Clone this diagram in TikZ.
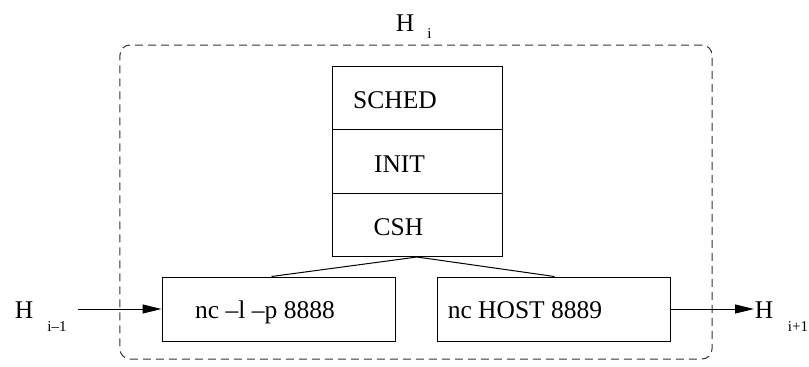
\documentclass[tikz,border=0pt]{standalone}
\usepackage{fontspec}
\setmainfont{Liberation Serif}
\usetikzlibrary{arrows.meta}
\begin{document}
\begin{tikzpicture}[x=1bp,y=-1bp,
  box/.style={draw, line width=1bp, inner sep=0pt, minimum width=170bp, minimum height=63.5bp},
  lowbox/.style={draw, line width=1bp, inner sep=0pt, minimum width=233bp, minimum height=64bp},
  txt/.style={anchor=base, inner sep=0pt, font=\fontsize{25.5bp}{30bp}\selectfont},
  sub/.style={anchor=base, inner sep=0pt, font=\fontsize{15bp}{18bp}\selectfont},
  conn/.style={line width=1bp},
  arr/.style={line width=1bp, -{Triangle[length=19bp,width=9bp]}},
  hostbox/.style={draw=black!80, dash pattern=on 8bp off 5bp, rounded corners=10bp, line width=1bp, inner sep=0pt, minimum width=592bp, minimum height=314bp},
]
\useasboundingbox (0,0) rectangle (809,366);
% host frame
\node[hostbox] (host) at (416,202) {};
\node[txt] (hH) at (405,31) {H};
\node[sub] (hHi) at (429.5,38) {i};
% stack
\node[box] (sched) at (417,97.75) {};
\node[box] (init) at (417,161.25) {};
\node[box] (csh) at (417,224.75) {};
\draw[line width=1.8bp] (init.south west) -- (init.south east);
\node[txt] (schedt) at (395,108.5) {SCHED};
\node[txt] (initt) at (399.5,172.5) {INIT};
\node[txt] (csht) at (398.5,235.5) {CSH};
% lower boxes
\node[lowbox] (ncl) at (278.5,309) {};
\node[lowbox] (nch) at (553.5,309) {};
\node[txt] (nclt) at (265,318.5) {nc –l –p 8888};
\node[txt] (ncht) at (525,318.5) {nc HOST 8889};
% connectors
\draw[conn] (csh.south) -- ([xshift=110bp]ncl.north west);
\draw[conn] (csh.south) -- ([xshift=118bp]nch.north west);
% in / out
\node[txt] (hin) at (24,318.5) {H};
\node[sub] (hinsub) at (57,331) {i–1};
\node[txt] (hout) at (764,318.5) {H};
\node[sub] (houtsub) at (798,331) {i+1};
\coordinate (inL) at (78,309);
\coordinate (outR) at (754,309);
\draw[arr] (inL) -- (ncl.west);
\draw[arr] (nch.east) -- (outR);
\end{tikzpicture}
\end{document}
